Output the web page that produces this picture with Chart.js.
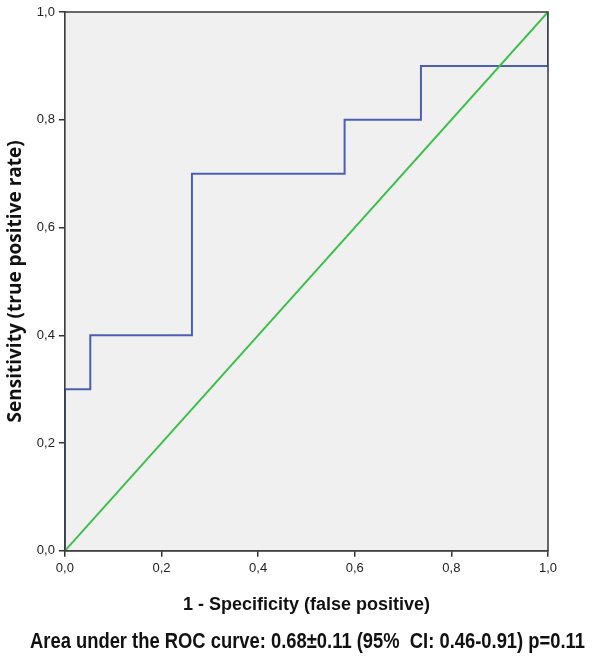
<!DOCTYPE html>
<html>
<head>
<meta charset="utf-8">
<script src="https://cdn.jsdelivr.net/npm/chart.js@4/dist/chart.umd.min.js"></script>
<style>
  html, body { margin: 0; padding: 0; background: #fff; }
  #wrap { position: relative; width: 600px; height: 664px; overflow: hidden; }
  #aucText {
    position: absolute; left: 30px; top: 628px; white-space: pre;
    transform-origin: left top;
    font-family: 'Liberation Sans', Arial, sans-serif; font-weight: bold;
    font-size: 22px; color: #111;
  }
</style>
</head>
<body>
<div id="wrap">
  <canvas id="roc" width="600" height="664"></canvas>
  <span id="aucText"></span>
</div>
<script>
// ROC curve points (1 - specificity, sensitivity)
var fpr = [0, 0, 0.0526, 0.0526, 0.263, 0.263, 0.579, 0.579, 0.737, 0.737, 1, 1];
var tpr = [0, 0.3, 0.3, 0.4, 0.4, 0.7, 0.7, 0.8, 0.8, 0.9, 0.9, 1];
var refX = [0, 1];
var refY = [0, 1];
var tickValues = [0, 0.2, 0.4, 0.6, 0.8, 1.0];
var subtitle = 'Area under the ROC curve: 0.68\u00b10.11 (95%  CI: 0.46-0.91) p=0.11';

function toPoints(xs, ys) {
    return xs.map(function (x, i) { return { x: x, y: ys[i] }; });
}

// condensed look of the caption under the chart
var aucSpan = document.getElementById('aucText');
aucSpan.textContent = subtitle;
var w = aucSpan.getBoundingClientRect().width;
aucSpan.style.transform = 'scaleX(' + (555 / w) + ')';

var frame = {
    id: 'frame',
    beforeDatasetsDraw: function (chart) {
        var a = chart.chartArea, ctx = chart.ctx;
        ctx.save();
        ctx.fillStyle = '#f0f0f0';
        ctx.fillRect(a.left, a.top, a.right - a.left, a.bottom - a.top);
        ctx.restore();
    },
    afterDraw: function (chart) {
        var a = chart.chartArea, ctx = chart.ctx;
        ctx.save();
        ctx.strokeStyle = '#3a3a3a';
        ctx.lineWidth = 1.5;
        ctx.strokeRect(a.left, a.top, a.right - a.left, a.bottom - a.top);
        ctx.restore();
    }
};

var tickFmt = function (v) { return v.toFixed(1).replace('.', ','); };

var axisTicks = {
    color: '#222',
    font: { family: 'Liberation Sans', size: 13 },
    stepSize: 0.2,
    padding: 4,
    callback: tickFmt
};

new Chart(document.getElementById('roc'), {
    type: 'scatter',
    data: {
        datasets: [
            {
                data: toPoints(refX, refY),
                showLine: true,
                borderColor: '#3cbf4a',
                borderWidth: 2,
                pointRadius: 0
            },
            {
                data: toPoints(fpr, tpr),
                showLine: true,
                borderColor: '#4a5fb4',
                borderWidth: 2,
                pointRadius: 0
            }
        ]
    },
    options: {
        responsive: false,
        animation: false,
        layout: { padding: { top: 12, right: 52, left: 4, bottom: 48 } },
        plugins: {
            legend: { display: false },
            tooltip: { enabled: false }
        },
        scales: {
            x: {
                type: 'linear',
                min: 0, max: 1,
                afterBuildTicks: function (axis) { axis.ticks = tickValues.map(function (v) { return { value: v }; }); },
                grid: { drawOnChartArea: false, drawTicks: true, tickLength: 6, color: '#333', lineWidth: 1.5 },
                border: { color: '#333', width: 1.5 },
                ticks: axisTicks,
                title: {
                    display: true,
                    text: '1 - Specificity (false positive)',
                    color: '#111',
                    font: { family: 'Liberation Sans', size: 18, weight: 'bold' },
                    padding: { top: 14, bottom: 0 }
                }
            },
            y: {
                type: 'linear',
                min: 0, max: 1,
                afterBuildTicks: function (axis) { axis.ticks = tickValues.map(function (v) { return { value: v }; }); },
                grid: { drawOnChartArea: false, drawTicks: true, tickLength: 6, color: '#333', lineWidth: 1.5 },
                border: { color: '#333', width: 1.5 },
                ticks: axisTicks,
                title: {
                    display: true,
                    text: 'Sensitivity (true positive rate)',
                    color: '#111',
                    font: { family: 'Open Sans', size: 19, weight: 'bold' },
                    padding: { top: 0, bottom: 6 }
                }
            }
        }
    },
    plugins: [frame]
});
</script>
</body>
</html>
